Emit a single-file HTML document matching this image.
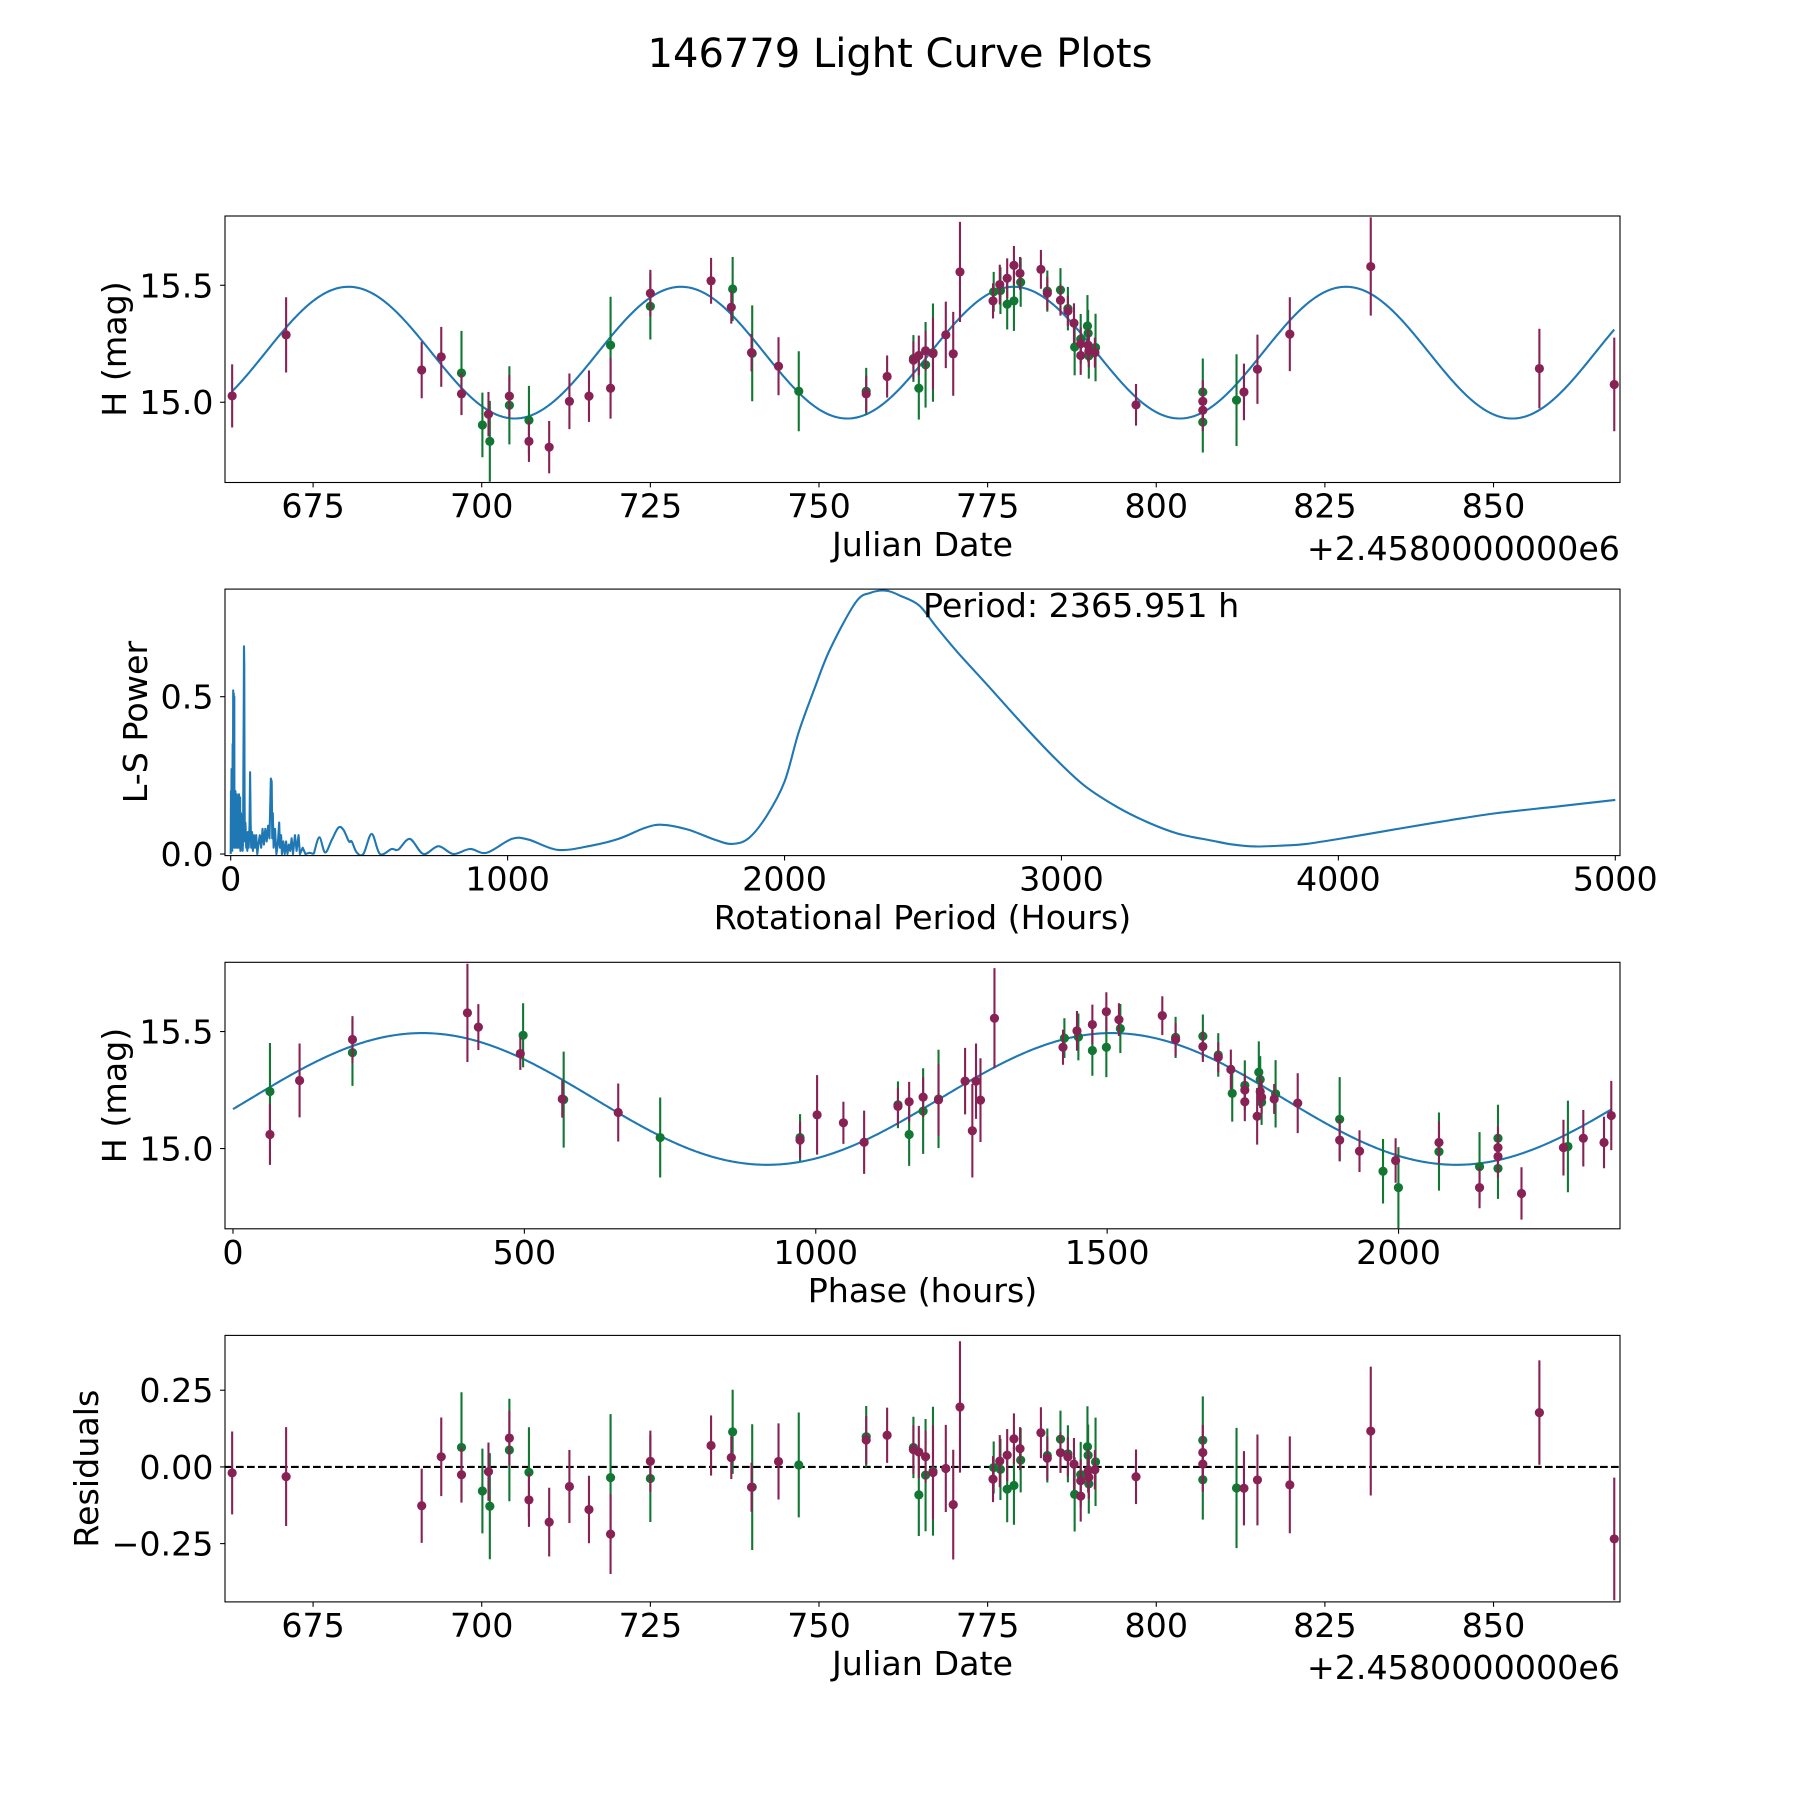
<!DOCTYPE html>
<html>
<head>
<meta charset="utf-8">
<style>
  html, body { margin: 0; padding: 0; background: #fff; }
  svg { display: block; font-family: "DejaVu Sans", "Liberation Sans", sans-serif; }
  .tick { font-size: 33.3px; fill: #000; }
  .lab { font-size: 33.3px; fill: #000; }
</style>
</head>
<body>
<svg id="fig" width="1800" height="1800" viewBox="0 0 1800 1800" xmlns="http://www.w3.org/2000/svg">
  <rect x="0" y="0" width="1800" height="1800" fill="#fff"/>
  <text x="900" y="67" text-anchor="middle" font-size="40">146779 Light Curve Plots</text>
</svg>
<script>
// ---------- data ----------
const obsDates = [663.0,671.0,691.1,694.0,697.0,697.0,700.1,701.0,701.2,704.1,704.1,707.0,707.0,710.0,713.0,715.9,719.1,719.1,725.0,725.0,734.0,737.2,737.0,740.1,740.0,744.0,747.0,757.0,757.0,760.1,764.0,764.0,764.8,764.8,765.8,765.8,766.9,766.9,768.8,769.9,770.9,775.8,775.9,776.8,776.9,777.9,777.9,778.9,778.9,779.8,779.9,782.9,783.85,783.85,785.8,785.8,786.9,786.9,787.8,787.9,788.8,788.8,788.8,789.8,789.9,789.9,790.0,790.0,791.0,790.9,797.0,806.9,806.9,806.9,806.9,811.9,813.0,815.0,819.8,831.8,856.8,867.9];
const obsMags = [15.027,15.288,15.138,15.194,15.125,15.036,14.903,14.949,14.833,15.026,14.987,14.923,14.833,14.808,15.004,15.026,15.244,15.06,15.466,15.41,15.519,15.484,15.406,15.209,15.212,15.154,15.047,15.047,15.036,15.11,15.187,15.18,15.2,15.06,15.22,15.16,15.212,15.208,15.288,15.207,15.557,15.433,15.472,15.503,15.477,15.53,15.419,15.585,15.433,15.551,15.513,15.568,15.475,15.466,15.48,15.436,15.4,15.39,15.338,15.236,15.27,15.25,15.2,15.326,15.295,15.244,15.198,15.219,15.234,15.212,14.989,15.044,15.004,14.966,14.915,15.009,15.044,15.141,15.291,15.58,15.144,15.076];
const obsErrs = [0.135,0.161,0.121,0.128,0.18,0.09,0.138,0.095,0.173,0.09,0.167,0.147,0.088,0.112,0.119,0.11,0.207,0.13,0.1,0.142,0.098,0.137,0.07,0.205,0.08,0.124,0.171,0.1,0.078,0.09,0.1,0.08,0.085,0.134,0.085,0.183,0.21,0.153,0.142,0.179,0.214,0.075,0.085,0.085,0.1,0.085,0.108,0.083,0.128,0.07,0.105,0.083,0.088,0.071,0.093,0.066,0.093,0.064,0.085,0.121,0.107,0.07,0.083,0.132,0.1,0.071,0.097,0.07,0.144,0.064,0.089,0.143,0.09,0.09,0.13,0.196,0.121,0.148,0.158,0.21,0.17,0.2];
const obsFilter = ["M","M","M","M","G","M","G","M","G","M","G","G","M","M","M","M","G","M","M","G","M","G","M","G","M","M","G","G","M","M","G","M","M","G","M","G","G","M","M","M","M","M","G","M","G","M","G","M","G","M","G","M","G","M","G","M","G","M","M","G","G","M","M","G","G","M","G","M","G","M","M","G","M","M","G","G","M","M","M","M","M","M"];

// Lomb-Scargle periodogram: spiky short-period part (hours, power)
const lsSpikePeriod = [0,0.5,1,1.5,2,2.5,3,3.5,4,4.5,5,5.5,6,6.5,7,7.5,8,8.5,9,9.5,10,10.5,11,11.5,12,12.5,13,13.5,14,15,16,17,18,19,20,21,22,23,24,25,26,27,28,29,30,31,32,33,34,35,36,37,38,39,40,41,42,43,44,45,46,47,48,49,50,51,52,53,54,56,58,60,62,65,68,70,72,74,77,80,84,88,92,96,100,105,110,115,120,125,130,135,140,145,148,150,152,155,160,165,170,175,178,182,185,190,195,200,205,210,215,220,225,232,238,245,250,260,270,285,300];
const lsSpikePower = [0.0,0.12,0.2,0.01,0.05,0.18,0.27,0.02,0.03,0.2,0.15,0.01,0.02,0.22,0.35,0.04,0.05,0.3,0.52,0.06,0.1,0.4,0.51,0.03,0.05,0.35,0.5,0.02,0.02,0.2,0.05,0.2,0.02,0.19,0.04,0.17,0.19,0.03,0.02,0.16,0.18,0.02,0.06,0.15,0.19,0.03,0.02,0.14,0.18,0.01,0.05,0.13,0.12,0.02,0.02,0.1,0.09,0.01,0.03,0.12,0.3,0.45,0.66,0.6,0.2,0.04,0.05,0.1,0.08,0.02,0.06,0.01,0.07,0.02,0.09,0.26,0.1,0.02,0.07,0.01,0.06,0.02,0.06,0.0,0.03,0.06,0.02,0.08,0.03,0.08,0.04,0.09,0.05,0.24,0.23,0.05,0.13,0.02,0.08,0.0,0.03,0.1,0.02,0.06,0.0,0.04,0.0,0.04,0.0,0.03,0.01,0.05,0.0,0.06,0.01,0.06,0.0,0.02,0.0,0.004,0.0];
// smooth long-period part
const lsSmoothPeriod = [300,320,341,365,389,407,427,437,455,479,509,539,581,605,647,696,750,804,864,924,1015,1075,1183,1304,1400,1496,1558,1650,1750,1810,1870,1936,2000,2051,2110,2165,2257,2310,2367,2420,2486,2550,2624,2740,2853,2970,3082,3200,3311,3420,3541,3620,3701,3800,3884,4050,4228,4400,4572,4800,5000];
const lsSmoothPower = [0.0,0.053,0.005,0.045,0.084,0.077,0.04,0.04,0.005,0.0,0.064,0.0,0.016,0.014,0.048,0.0,0.025,0.0,0.016,0.004,0.048,0.046,0.013,0.027,0.048,0.083,0.093,0.078,0.045,0.032,0.05,0.122,0.23,0.387,0.53,0.652,0.80,0.83,0.837,0.82,0.79,0.72,0.642,0.53,0.419,0.31,0.218,0.15,0.101,0.065,0.043,0.03,0.024,0.027,0.032,0.055,0.082,0.107,0.13,0.152,0.172];

// fitted model parameters
const modelParams = [15.212, 0.2815, 325.0]; // mean, amplitude, peak phase (h)
const periodHours = [2365.951];
const phaseEpoch = [814.58]; // date (offset) at phase 0
const foldShift = [-11]; // fold offset applied to plotted phases (h)

// tick labels
const jdTicks = [675,700,725,750,775,800,825,850];
const magTicks = [15.0,15.5];
const magTickLabels = ["15.0","15.5"];
const lsXTicks = [0,1000,2000,3000,4000,5000];
const lsYTicks = [0.0,0.5];
const lsYTickLabels = ["0.0","0.5"];
const phaseTicks = [0,500,1000,1500,2000];
const resTicks = [0.25,0.0,-0.25];
const resTickLabels = ["0.25","0.00","\u22120.25"];

// ---------- helpers ----------
const NS = "http://www.w3.org/2000/svg";
const svg = document.getElementById('fig');
const COL = {M: "#882255", G: "#117733"};
const L = 225, W = 1395, H = 266.5;
const TOPS = [216, 589.1, 962.3, 1335.4];

function el(tag, attrs, parent) {
  const e = document.createElementNS(NS, tag);
  for (const k in attrs) e.setAttribute(k, attrs[k]);
  (parent || svg).appendChild(e);
  return e;
}
function makeAxes(top, xmin, xmax, ymin, ymax, id) {
  const ax = {top, xmin, xmax, ymin, ymax};
  ax.x = v => L + (v - xmin) / (xmax - xmin) * W;
  ax.y = v => top + H - (v - ymin) / (ymax - ymin) * H;
  const cp = el('clipPath', {id: 'clip' + id});
  el('rect', {x: L, y: top, width: W, height: H}, cp);
  ax.g = el('g', {'clip-path': 'url(#clip' + id + ')'});
  
  
  return ax;
}
function frame(ax, name) {
  const r = el('rect', {x: L, y: ax.top, width: W, height: H, fill: 'none', stroke: '#000', 'stroke-width': 1.1});
  
  
}
function xTicks(ax, vals, labels, name) {
  const g = el('g', {});
  
  
  const yb = ax.top + H;
  vals.forEach((v, i) => {
    const x = ax.x(v);
    el('line', {x1: x, x2: x, y1: yb, y2: yb + 4.9, stroke: '#000', 'stroke-width': 1.1}, g);
    const t = el('text', {x: x, y: yb + 35, 'text-anchor': 'middle', class: 'tick'}, g);
    t.textContent = labels[i];
  });
}
function yTicks(ax, vals, labels, name) {
  const g = el('g', {});
  
  
  vals.forEach((v, i) => {
    const y = ax.y(v);
    el('line', {x1: L - 4.9, x2: L, y1: y, y2: y, stroke: '#000', 'stroke-width': 1.1}, g);
    const t = el('text', {x: L - 11.5, y: y + 12, 'text-anchor': 'end', class: 'tick'}, g);
    t.textContent = labels[i];
  });
}
function text(x, y, s, anchor, name, rot) {
  const t = el('text', {x: x, y: y, 'text-anchor': anchor, class: 'lab'});
  if (rot) t.setAttribute('transform', 'rotate(-90 ' + x + ' ' + y + ')');
  t.textContent = s;
  
  
  return t;
}
function phaseOf(d) {
  const P = periodHours[0];
  let p = ((d - phaseEpoch[0]) * 24) % P;
  if (p < 0) p += P;
  return p;
}
function foldedPhase(d) {
  const P = periodHours[0];
  let p = (phaseOf(d) + foldShift[0]) % P;
  if (p < 0) p += P;
  return p;
}
function modelPhase(p) {
  return modelParams[0] + modelParams[1] * Math.cos(4 * Math.PI * (p - modelParams[2]) / periodHours[0]);
}
function modelDate(d) { return modelPhase(phaseOf(d)); }

function drawPoints(ax, xs, ys, errs, name) {
  const order = [];
  obsFilter.forEach((f, i) => { if (f === 'G') order.push(i); });
  obsFilter.forEach((f, i) => { if (f === 'M') order.push(i); });
  order.forEach(i => {
    const c = COL[obsFilter[i]];
    const x = ax.x(xs[i]);
    const bar = el('line', {x1: x, x2: x, y1: ax.y(ys[i] - errs[i]), y2: ax.y(ys[i] + errs[i]), stroke: c, 'stroke-width': 2.1}, ax.g);
    
    
    const dot = el('circle', {cx: x, cy: ax.y(ys[i]), r: 4.6, fill: c}, ax.g);
    
    
  });
}
function drawCurve(ax, xs, ys, name, w) {
  const pts = xs.map((v, i) => ax.x(v).toFixed(2) + ',' + ax.y(ys[i]).toFixed(2)).join(' ');
  const pl = el('polyline', {points: pts, fill: 'none', stroke: '#1f77b4', 'stroke-width': w || 2.1, 'stroke-linejoin': 'round'}, ax.g);
  
  
}
function drawSmooth(ax, xs, ys, name, w) {
  const P = xs.map((v, i) => [ax.x(v), ax.y(ys[i])]);
  let d = 'M' + P[0][0].toFixed(2) + ',' + P[0][1].toFixed(2);
  for (let i = 0; i < P.length - 1; i++) {
    const p0 = P[Math.max(0, i - 1)], p1 = P[i], p2 = P[i + 1], p3 = P[Math.min(P.length - 1, i + 2)];
    const c1 = [p1[0] + (p2[0] - p0[0]) / 6, p1[1] + (p2[1] - p0[1]) / 6];
    const c2 = [p2[0] - (p3[0] - p1[0]) / 6, p2[1] - (p3[1] - p1[1]) / 6];
    d += ' C' + c1[0].toFixed(2) + ',' + c1[1].toFixed(2) + ' ' + c2[0].toFixed(2) + ',' + c2[1].toFixed(2) + ' ' + p2[0].toFixed(2) + ',' + p2[1].toFixed(2);
  }
  const pa = el('path', {d: d, fill: 'none', stroke: '#1f77b4', 'stroke-width': w || 2.1, 'stroke-linejoin': 'round'}, ax.g);
  
  
}

// ---------- panel 1: light curve ----------
const ax1 = makeAxes(TOPS[0], 661.94, 868.75, 14.657, 15.796, 'lc');
{
  const t0 = Math.min(...obsDates), t1 = Math.max(...obsDates);
  const xs = [], ys = [];
  for (let k = 0; k <= 1000; k++) { const d = t0 + (t1 - t0) * k / 1000; xs.push(d); ys.push(modelDate(d)); }
  drawCurve(ax1, xs, ys, 'model-curve');
  drawPoints(ax1, obsDates, obsMags, obsErrs, 'lc');
}
frame(ax1, 'light-curve');
xTicks(ax1, jdTicks, jdTicks.map(String), 'light-curve');
yTicks(ax1, magTicks, magTickLabels, 'light-curve');
text(922.5, 556, 'Julian Date', 'middle', 'x-axis-title-lc');
text(1620, 560, '+2.4580000000e6', 'end', 'x-offset-lc');
text(126, 349, 'H (mag)', 'middle', 'y-axis-title-lc', true);

// ---------- panel 2: periodogram ----------
const ax2 = makeAxes(TOPS[1], -20.6, 5017, -0.005, 0.842, 'ls');
drawCurve(ax2, lsSpikePeriod, lsSpikePower, 'periodogram-spikes', 2.1);
drawSmooth(ax2, lsSmoothPeriod, lsSmoothPower, 'periodogram-line', 2.1);
frame(ax2, 'periodogram');
xTicks(ax2, lsXTicks, lsXTicks.map(String), 'periodogram');
yTicks(ax2, lsYTicks, lsYTickLabels, 'periodogram');
text(922.5, 929, 'Rotational Period (Hours)', 'middle', 'x-axis-title-ls');
text(147, 722, 'L-S Power', 'middle', 'y-axis-title-ls', true);
text(923, 617, 'Period: 2365.951 h', 'start', 'period-annotation');

// ---------- panel 3: phased ----------
const ax3 = makeAxes(TOPS[2], -13.7, 2380, 14.657, 15.796, 'ph');
{
  const xs = [], ys = [];
  for (let k = 0; k <= 800; k++) { const p = periodHours[0] * k / 800; xs.push(p); ys.push(modelPhase(p)); }
  drawCurve(ax3, xs, ys, 'phase-model-curve');
  drawPoints(ax3, obsDates.map(foldedPhase), obsMags, obsErrs, 'phase');
}
frame(ax3, 'phase');
xTicks(ax3, phaseTicks, phaseTicks.map(String), 'phase');
yTicks(ax3, magTicks, magTickLabels, 'phase');
text(922.5, 1302, 'Phase (hours)', 'middle', 'x-axis-title-phase');
text(126, 1095.5, 'H (mag)', 'middle', 'y-axis-title-phase', true);

// ---------- panel 4: residuals ----------
const ax4 = makeAxes(TOPS[3], 661.94, 868.75, -0.44, 0.4287, 'res');
{
  const zl = el('line', {x1: L, x2: L + W, y1: ax4.y(0), y2: ax4.y(0), stroke: '#000', 'stroke-width': 2.1, 'stroke-dasharray': '7.7,3.3'}, ax4.g);
  
  
  const res = obsDates.map((d, i) => obsMags[i] - modelDate(d));
  drawPoints(ax4, obsDates, res, obsErrs, 'residual');
}
frame(ax4, 'residuals');
xTicks(ax4, jdTicks, jdTicks.map(String), 'residuals');
yTicks(ax4, resTicks, resTickLabels, 'residuals');
text(922.5, 1675, 'Julian Date', 'middle', 'x-axis-title-res');
text(1620, 1679, '+2.4580000000e6', 'end', 'x-offset-res');
text(98, 1468.6, 'Residuals', 'middle', 'y-axis-title-res', true);
</script>
</body>
</html>
